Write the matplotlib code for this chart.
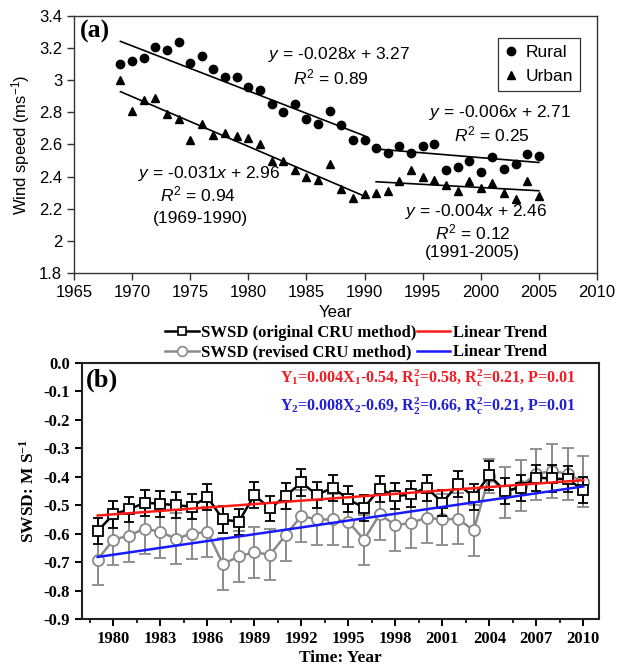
import numpy as np
import matplotlib
matplotlib.use('Agg')
import matplotlib.pyplot as plt
from matplotlib.lines import Line2D
from matplotlib.ticker import MultipleLocator

plt.rcParams['font.family'] = ['Liberation Sans', 'DejaVu Sans']
plt.rcParams['axes.unicode_minus'] = False
plt.rcParams['mathtext.fontset'] = 'custom'
plt.rcParams['mathtext.rm'] = 'Liberation Sans'
plt.rcParams['mathtext.it'] = 'Liberation Sans:italic'
plt.rcParams['mathtext.bf'] = 'Liberation Serif:bold'

# ---- panel (a): rural / urban wind speed ----
years_a = np.arange(1969, 2006)
rural = [3.10, 3.12, 3.14, 3.21, 3.19, 3.24, 3.11, 3.15, 3.07, 3.02,
         3.02, 2.96, 2.94, 2.85, 2.80, 2.85, 2.76, 2.73, 2.81, 2.72,
         2.63, 2.63, 2.58, 2.55, 2.59, 2.55, 2.59, 2.60, 2.44, 2.46,
         2.50, 2.43, 2.52, 2.45, 2.48, 2.54, 2.53]
urban = [3.00, 2.81, 2.88, 2.89, 2.79, 2.76, 2.63, 2.73, 2.66, 2.67,
         2.65, 2.64, 2.60, 2.50, 2.50, 2.44, 2.40, 2.38, 2.48, 2.32,
         2.27, 2.29, 2.30, 2.31, 2.37, 2.44, 2.40, 2.38, 2.35, 2.31,
         2.37, 2.33, 2.36, 2.30, 2.26, 2.37, 2.28]
# (slope, intercept, first year, last year), x = year - 1968
trends_a = [(-0.028, 3.27, 1969, 1990), (-0.006, 2.71, 1991, 2005),
            (-0.031, 2.96, 1969, 1990), (-0.004, 2.46, 1991, 2005)]

# ---- panel (b): SWSD ----
years_b = np.arange(1979, 2011)
swsd_orig = [-0.591, -0.532, -0.515, -0.491, -0.495, -0.500, -0.505, -0.471,
             -0.550, -0.558, -0.465, -0.511, -0.468, -0.420, -0.464, -0.438,
             -0.479, -0.509, -0.442, -0.468, -0.462, -0.438, -0.491, -0.426,
             -0.470, -0.395, -0.450, -0.438, -0.403, -0.406, -0.409, -0.446]
err_orig = [0.047, 0.047, 0.045, 0.046, 0.045, 0.046, 0.044, 0.047,
            0.047, 0.046, 0.046, 0.044, 0.045, 0.047, 0.046, 0.046,
            0.045, 0.046, 0.046, 0.046, 0.046, 0.046, 0.046, 0.046,
            0.046, 0.050, 0.046, 0.046, 0.046, 0.046, 0.046, 0.045]
swsd_rev = [-0.691, -0.621, -0.607, -0.582, -0.594, -0.618, -0.600, -0.594,
            -0.707, -0.680, -0.665, -0.674, -0.605, -0.538, -0.550, -0.550,
            -0.558, -0.621, -0.532, -0.570, -0.562, -0.544, -0.550, -0.548,
            -0.588, -0.397, -0.456, -0.432, -0.391, -0.379, -0.390, -0.418]
err_rev = [0.091, 0.090, 0.091, 0.090, 0.090, 0.090, 0.090, 0.088,
           0.091, 0.091, 0.090, 0.090, 0.091, 0.090, 0.090, 0.090,
           0.090, 0.088, 0.090, 0.090, 0.090, 0.090, 0.090, 0.090,
           0.090, 0.060, 0.090, 0.090, 0.090, 0.094, 0.090, 0.090]
# (slope, intercept), x = year - 1978
trend_orig = (0.004, -0.54)
trend_rev = (0.008, -0.69)

fig = plt.figure(figsize=(6.2, 6.65), dpi=100)

# ================= (a) =================
ax1 = fig.add_axes([74/620, 1-273/665, 523/620, 257/665])
ax1.plot(years_a, rural, 'o', color='k', ms=6, label='Rural')
ax1.plot(years_a, urban, '^', color='k', ms=6, label='Urban')
for slope, icpt, y0, y1 in trends_a:
    xx = np.array([y0, y1])
    ax1.plot(xx, slope * (xx - 1968) + icpt, color='k', lw=1.2)

ax1.set_xlim(1965, 2010)
ax1.set_ylim(1.8, 3.4)
ax1.set_xticks(np.arange(1965, 2011, 5))
yt = np.round(np.arange(1.8, 3.41, 0.2), 1)
ax1.set_yticks(yt)
ax1.set_yticklabels([f'{v:g}' for v in yt])
ax1.tick_params(direction='out', length=5, width=1, labelsize=12, color='#333')
for s in ax1.spines.values():
    s.set_linewidth(1.0)
    s.set_color('#333')
ax1.set_xlabel('Year', fontsize=12, labelpad=4)
ax1.set_ylabel(r'Wind speed (ms$^{-1}$)', fontsize=12, labelpad=5)

fs_eq = 12.5
ax1.text(1987.8, 3.163, r'$\mathit{y}$ = -0.028$\mathit{x}$ + 3.27', ha='center', va='center', fontsize=fs_eq)
ax1.text(1987.1, 3.02, r'$\mathit{R}^2$ = 0.89', ha='center', va='center', fontsize=fs_eq)
ax1.text(2001.7, 2.80, r'$\mathit{y}$ = -0.006$\mathit{x}$ + 2.71', ha='center', va='center', fontsize=fs_eq)
ax1.text(2001.0, 2.665, r'$\mathit{R}^2$ = 0.25', ha='center', va='center', fontsize=fs_eq)
ax1.text(1976.6, 2.42, r'$\mathit{y}$ = -0.031$\mathit{x}$ + 2.96', ha='center', va='center', fontsize=fs_eq)
ax1.text(1975.7, 2.29, r'$\mathit{R}^2$ = 0.94', ha='center', va='center', fontsize=fs_eq)
ax1.text(1975.9, 2.14, '(1969-1990)', ha='center', va='center', fontsize=fs_eq)
ax1.text(1999.6, 2.18, r'$\mathit{y}$ = -0.004$\mathit{x}$ + 2.46', ha='center', va='center', fontsize=fs_eq)
ax1.text(1999.3, 2.05, r'$\mathit{R}^2$ = 0.12', ha='center', va='center', fontsize=fs_eq)
ax1.text(1999.3, 1.925, '(1991-2005)', ha='center', va='center', fontsize=fs_eq)
ax1.text(0.011, 0.94, '(a)', transform=ax1.transAxes, ha='left', va='center',
         fontsize=18.5, fontweight='bold', family='Liberation Serif')

leg1 = ax1.legend(loc='upper right', bbox_to_anchor=(0.967, 0.914), fontsize=12.5,
                  frameon=True, fancybox=False, edgecolor='k', handlelength=0.8,
                  handletextpad=0.4, borderpad=0.4, labelspacing=0.5, borderaxespad=0)
leg1.get_frame().set_linewidth(0.9)

# ================= (b) =================
serif_b = {'family': 'Liberation Serif', 'weight': 'bold'}
gray = '#8a8a8a'
ax2 = fig.add_axes([82/620, 1-619/665, 517/620, 256/665])
ax2.errorbar(years_b, swsd_rev, yerr=err_rev, color=gray, lw=1.8, marker='o', ms=8,
             mfc='white', mec=gray, mew=1.3, capsize=4, elinewidth=1.4, capthick=1.4, zorder=2)
ax2.errorbar(years_b, swsd_orig, yerr=err_orig, color='k', lw=1.8, marker='s', ms=7,
             mfc='white', mec='k', mew=1.3, capsize=3.5, elinewidth=1.4, capthick=1.4, zorder=3)
xx = np.array([years_b[0], years_b[-1]])
ax2.plot(xx, trend_orig[0] * (xx - 1978) + trend_orig[1], color='#ff1a1a', lw=1.8, zorder=4)
ax2.plot(xx, trend_rev[0] * (xx - 1978) + trend_rev[1], color='#1a1aff', lw=1.8, zorder=4)

ax2.set_xlim(1978, 2011)
ax2.set_ylim(-0.9, 0.0)
ax2.xaxis.set_major_locator(MultipleLocator(3))
ax2.xaxis.set_minor_locator(MultipleLocator(1.5))
yt2 = np.round(np.arange(-0.9, 0.01, 0.1), 1)
ax2.set_yticks(yt2)
ax2.set_yticklabels([f'{abs(v):.1f}' if abs(v) < 1e-9 else f'{v:.1f}' for v in yt2])
ax2.tick_params(which='major', direction='out', length=5, width=1.4, labelsize=12)
ax2.tick_params(which='minor', direction='out', length=3, width=1.2)
plt.setp(ax2.get_xticklabels() + ax2.get_yticklabels(), **serif_b)
for s in ax2.spines.values():
    s.set_linewidth(1.5)
    s.set_color('#222')
ax2.set_xlabel('Time: Year', fontsize=12.5, labelpad=2, **serif_b)
ax2.set_ylabel(r'SWSD: M S$^{\mathbf{-1}}$', fontsize=12.5, labelpad=4, **serif_b)

ax2.text(0.008, 0.934, '(b)', transform=ax2.transAxes, ha='left', va='center',
         fontsize=19, **serif_b)
ax2.text(0.954, 0.941, r'$\mathbf{Y_1}$=0.004$\mathbf{X_1}$-0.54, $\mathbf{R_1^2}$=0.58, '
         r'$\mathbf{R_c^2}$=0.21, P=0.01', transform=ax2.transAxes, ha='right', va='center',
         fontsize=11.5, color='#ee1c24', **serif_b)
ax2.text(0.954, 0.832, r'$\mathbf{Y_2}$=0.008$\mathbf{X_2}$-0.69, $\mathbf{R_2^2}$=0.66, '
         r'$\mathbf{R_c^2}$=0.21, P=0.01', transform=ax2.transAxes, ha='right', va='center',
         fontsize=11.5, color='#1f1fd6', **serif_b)

handles = [
    Line2D([], [], color='k', lw=1.8, marker='s', ms=6, mfc='white', mew=1.2),
    Line2D([], [], color=gray, lw=1.8, marker='o', ms=7, mfc='white', mew=1.2),
    Line2D([], [], color='#ff1a1a', lw=1.8),
    Line2D([], [], color='#1a1aff', lw=1.8),
]
labels = ['SWSD (original CRU method)', 'SWSD (revised CRU method)',
          'Linear Trend', 'Linear Trend']
ax2.legend(handles, labels, ncol=2, loc='lower center', bbox_to_anchor=(0.53, 1.0),
           frameon=False, prop={'family': 'Liberation Serif', 'weight': 'bold', 'size': 12},
           handlelength=2.0, handletextpad=0.15, columnspacing=0.0, labelspacing=0.2,
           borderpad=0.1, borderaxespad=0.05)

fig.savefig('out.png', dpi=100)
